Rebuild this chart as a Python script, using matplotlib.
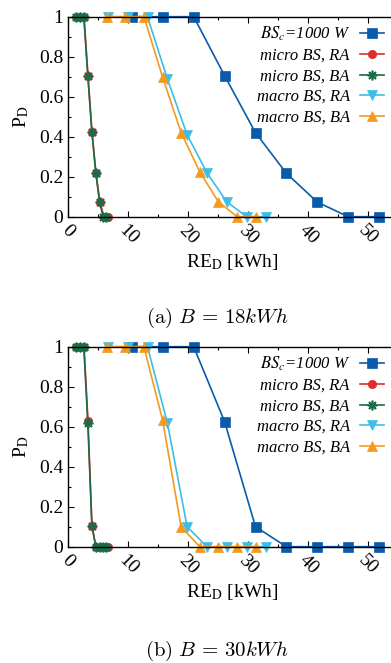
import matplotlib
matplotlib.use("Agg")
import matplotlib.pyplot as plt
from matplotlib.ticker import MultipleLocator

plt.rcParams["font.family"] = ["Liberation Serif", "DejaVu Serif"]
plt.rcParams["mathtext.fontset"] = "stix"

# 数据
x_bsc = [10.6, 15.75, 20.9, 26.05, 31.2, 36.35, 41.5, 46.65, 51.8]
x_micro_ra = [1.3, 1.96, 2.62, 3.28, 3.94, 4.6, 5.26, 5.92, 6.58]
x_micro_ba = [1.3, 1.94, 2.58, 3.25, 3.93, 4.58, 5.2, 5.8, 6.2]
x_macro_ra = [6.6, 9.9, 13.2, 16.5, 19.8, 23.1, 26.4, 29.7, 33.0]
x_macro_ba = [6.4, 9.5, 12.6, 15.7, 18.8, 21.9, 25.0, 28.15, 31.3]

# (a) B = 18 kWh
pa_bsc = [1, 1, 1, 0.705, 0.42, 0.217, 0.073, 0, 0]
pa_micro_ra = [1, 1, 1, 0.705, 0.425, 0.22, 0.075, 0, 0]
pa_micro_ba = [1, 1, 1, 0.705, 0.425, 0.22, 0.075, 0, 0]
pa_macro_ra = [1, 1, 1, 0.69, 0.41, 0.22, 0.075, 0, 0]
pa_macro_ba = [1, 1, 1, 0.70, 0.42, 0.225, 0.075, 0, 0]

# (b) B = 30 kWh
pb_bsc = [1, 1, 1, 0.625, 0.10, 0, 0, 0, 0]
pb_micro_ra = [1, 1, 1, 0.63, 0.105, 0, 0, 0, 0]
pb_micro_ba = [1, 1, 1, 0.62, 0.105, 0, 0, 0, 0]
pb_macro_ra = [1, 1, 1, 0.62, 0.10, 0, 0, 0, 0]
pb_macro_ba = [1, 1, 1, 0.635, 0.10, 0, 0, 0, 0]

labels = ["$BS_c$=1000 W", "micro BS, RA", "micro BS, BA",
          "macro BS, RA", "macro BS, BA"]
colors = ["#0a5cab", "#dd2e2e", "#1d6b48", "#3ebde6", "#f39a1f"]
markers = ["s", "o", (8, 2, 0), "v", "^"]
msizes = [7, 6, 7, 6.5, 6.5]

W, H = 391, 663
fig = plt.figure(figsize=(W / 100, H / 100), dpi=100)


def panel(top_px, ys, caption, cap_y):
    left = 68.3 / W
    bottom = (H - top_px - 200) / H
    ax = fig.add_axes([left, bottom, 330 / W, 200 / H])
    xs = [x_bsc, x_micro_ra, x_micro_ba, x_macro_ra, x_macro_ba]
    for x, y, c, m, ms, lab in zip(xs, ys, colors, markers, msizes, labels):
        ax.plot(x, y, color=c, marker=m, markersize=ms, lw=1.2,
                markeredgewidth=1.2 if m == (8, 2, 0) else 0.5,
                label=lab, clip_on=False)
    ax.set_xlim(0, 55)
    ax.set_ylim(0, 1)
    ax.xaxis.set_major_locator(MultipleLocator(10))
    ax.xaxis.set_minor_locator(MultipleLocator(5))
    ax.yaxis.set_minor_locator(MultipleLocator(0.1))
    ax.set_yticks([0, 0.2, 0.4, 0.6, 0.8, 1])
    ax.set_yticklabels(["0", "0.2", "0.4", "0.6", "0.8", "1"])
    ax.tick_params(which="both", direction="in", top=True, right=False,
                   labelsize=14, width=0.8)
    ax.tick_params(which="major", length=4)
    ax.tick_params(which="minor", length=2)
    ax.tick_params(axis="x", pad=4)
    for lab in ax.get_xticklabels():
        lab.set_rotation(-45)
        lab.set_ha("center")
        lab.set_va("top")
    for s in ax.spines.values():
        s.set_linewidth(1.0)
    ax.spines["right"].set_visible(False)
    ax.set_ylabel("P$_\\mathrm{D}$", fontsize=14, labelpad=6)
    fig.text(232 / W, 1 - (top_px + 245) / H, "RE$_\\mathrm{D}$ [kWh]",
             fontsize=14, ha="center", va="center")
    fig.legend(loc="upper right", bbox_to_anchor=(384 / W, 1 - (top_px + 8) / H),
               frameon=False, markerfirst=False,
               prop={"style": "italic", "size": 12},
               handlelength=1.45, handletextpad=0.6, labelspacing=0.28,
               borderpad=0, borderaxespad=0,
               handles=ax.get_lines())
    fig.text(217 / W, 1 - cap_y / H, caption, fontsize=15, ha="center",
             va="center", math_fontfamily="cm")
    return ax


panel(16.7, [pa_bsc, pa_micro_ra, pa_micro_ba, pa_macro_ra, pa_macro_ba],
      r"$\mathrm{(a)}\ B\,=\,18kWh$", 318)
panel(346.7, [pb_bsc, pb_micro_ra, pb_micro_ba, pb_macro_ra, pb_macro_ba],
      r"$\mathrm{(b)}\ B\,=\,30kWh$", 651)

fig.savefig("out.png", dpi=100)
